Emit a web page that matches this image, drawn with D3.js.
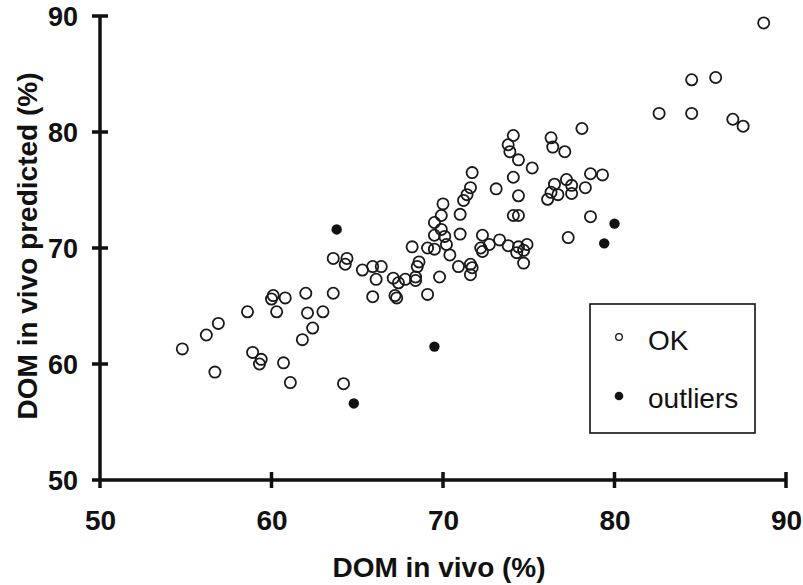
<!DOCTYPE html>
<html>
<head>
<meta charset="utf-8">
<script src="https://cdn.jsdelivr.net/npm/d3@7"></script>
<style>
  html, body { margin: 0; padding: 0; background: #ffffff; }
  svg { display: block; }
</style>
</head>
<body>
<svg id="chart" width="803" height="585"></svg>
<script>
// ---- data ----
const xTicks = [50, 60, 70, 80, 90];
const yTicks = [50, 60, 70, 80, 90];
const xLabel = "DOM in vivo (%)";
const yLabel = "DOM in vivo predicted (%)";
const legendLabels = ["OK", "outliers"];

const okX = [54.8,56.2,56.9,56.7,58.6,58.9,59.4,59.3,60.7,61.1,60.1,60.0,60.8,60.3,62.0,62.1,63.0,62.4,61.8,63.6,64.2,
  63.6,64.4,64.3,65.3,65.9,66.4,66.1,67.1,67.4,67.8,68.4,68.4,68.6,68.5,69.8,70.9,71.6,71.7,71.6,65.9,67.2,67.3,69.1,
  68.2,69.1,69.5,70.2,70.4,72.3,69.5,70.1,69.9,69.5,69.9,71.0,70.0,71.2,71.4,71.6,71.7,73.1,71.0,72.3,72.2,72.7,73.3,
  73.8,74.4,74.9,74.7,74.3,74.7,74.1,74.4,74.4,74.1,74.1,73.8,73.9,74.4,75.2,76.3,76.4,77.1,76.5,76.3,76.7,76.1,77.2,
  77.5,77.5,78.3,78.6,79.3,78.6,77.3,78.1,82.6,84.5,86.9,87.5,84.5,85.9,88.7];
const okY = [61.3,62.5,63.5,59.3,64.5,61.0,60.4,60.0,60.1,58.4,65.9,65.6,65.7,64.5,66.1,64.4,64.5,63.1,62.1,66.1,58.3,
  69.1,69.1,68.6,68.1,68.4,68.4,67.3,67.4,67.0,67.3,67.5,67.2,68.8,68.4,67.5,68.4,68.6,68.3,67.7,65.8,65.9,65.7,66.0,
  70.1,70.0,69.9,70.3,69.4,69.7,71.1,71.0,71.6,72.2,72.8,72.9,73.8,74.1,74.6,75.2,76.5,75.1,71.2,71.1,70.0,70.3,70.7,
  70.2,70.1,70.3,69.8,69.6,68.7,72.8,72.8,74.5,76.1,79.7,78.9,78.3,77.6,76.9,79.5,78.7,78.3,75.5,74.8,74.6,74.2,75.9,
  75.4,74.7,75.2,76.4,76.3,72.7,70.9,80.3,81.6,81.6,81.1,80.5,84.5,84.7,89.4];
const outX = [63.8, 64.8, 69.5, 80.0, 79.4];
const outY = [71.6, 56.6, 61.5, 72.1, 70.4];

// ---- layout ----
const svg = d3.select("#chart");
const mLeft = 100, mRight = 786, mTop = 16, mBottom = 480;
const x = d3.scaleLinear().domain([50, 90]).range([mLeft, mRight]);
const y = d3.scaleLinear().domain([50, 90]).range([mBottom, mTop]);
const font = "'Liberation Sans', Arial, Helvetica, sans-serif";
const ink = "#111";

// axis lines with crossing ticks, as one path built from the scales
const p = d3.path();
p.moveTo(mLeft - 7, mBottom); p.lineTo(mRight, mBottom);
p.moveTo(mLeft, mTop); p.lineTo(mLeft, mBottom + 8);
xTicks.forEach(t => { p.moveTo(x(t), mBottom - 8); p.lineTo(x(t), mBottom + 8); });
yTicks.forEach(t => { p.moveTo(mLeft - 8, y(t)); p.lineTo(mLeft + 8, y(t)); });
svg.append("path").attr("d", p.toString()).attr("fill", "none")
  .attr("stroke", ink).attr("stroke-width", 3.5);

// tick labels via d3 axes
const gx = svg.append("g").attr("transform", `translate(0,${mBottom})`)
  .call(d3.axisBottom(x).tickValues(xTicks).tickSizeOuter(0).tickSize(0).tickPadding(0));
gx.select(".domain").remove();
gx.selectAll(".tick line").remove();
gx.selectAll(".tick text").attr("font-family", font).attr("font-weight", "bold").attr("font-size", 28)
  .attr("fill", ink).attr("y", 50).attr("dy", 0);

const gy = svg.append("g").attr("transform", `translate(${mLeft},0)`)
  .call(d3.axisLeft(y).tickValues(yTicks).tickSizeOuter(0).tickSize(0));
gy.select(".domain").remove();
gy.selectAll(".tick line").remove();
gy.selectAll(".tick text").attr("font-family", font).attr("font-weight", "bold").attr("font-size", 27)
  .attr("fill", ink).attr("x", -22).attr("dy", "0.36em");

// axis titles
svg.append("text").attr("x", 439).attr("y", 577).attr("text-anchor", "middle")
  .attr("font-family", font).attr("font-weight", "bold").attr("font-size", 28).attr("fill", ink)
  .text(xLabel);
svg.append("text").attr("transform", `translate(37,246) rotate(-90)`).attr("text-anchor", "middle")
  .attr("font-family", font).attr("font-weight", "bold").attr("font-size", 28).attr("fill", ink)
  .text(yLabel);

// points
const okData = okX.map((v, i) => [v, okY[i]]);
const outData = outX.map((v, i) => [v, outY[i]]);
svg.append("g").selectAll("circle").data(okData).join("circle")
  .attr("cx", d => x(d[0])).attr("cy", d => y(d[1])).attr("r", 5.6)
  .attr("fill", "none").attr("stroke", "#1a1a1a").attr("stroke-width", 1.8);
svg.append("g").selectAll("circle").data(outData).join("circle")
  .attr("cx", d => x(d[0])).attr("cy", d => y(d[1])).attr("r", 5.2)
  .attr("fill", ink);

// legend
const lg = svg.append("g");
lg.append("rect").attr("x", 590).attr("y", 304).attr("width", 165).attr("height", 129)
  .attr("fill", "#fff").attr("stroke", ink).attr("stroke-width", 1.6);
lg.append("circle").attr("cx", 619).attr("cy", 337).attr("r", 3.3)
  .attr("fill", "none").attr("stroke", ink).attr("stroke-width", 1.3);
lg.append("circle").attr("cx", 619).attr("cy", 396).attr("r", 4.3).attr("fill", ink);
lg.append("text").attr("x", 648).attr("y", 350).attr("font-family", font).attr("font-size", 28)
  .attr("fill", ink).text(legendLabels[0]);
lg.append("text").attr("x", 648).attr("y", 408).attr("font-family", font).attr("font-size", 28)
  .attr("fill", ink).text(legendLabels[1]);
</script>
</body>
</html>
